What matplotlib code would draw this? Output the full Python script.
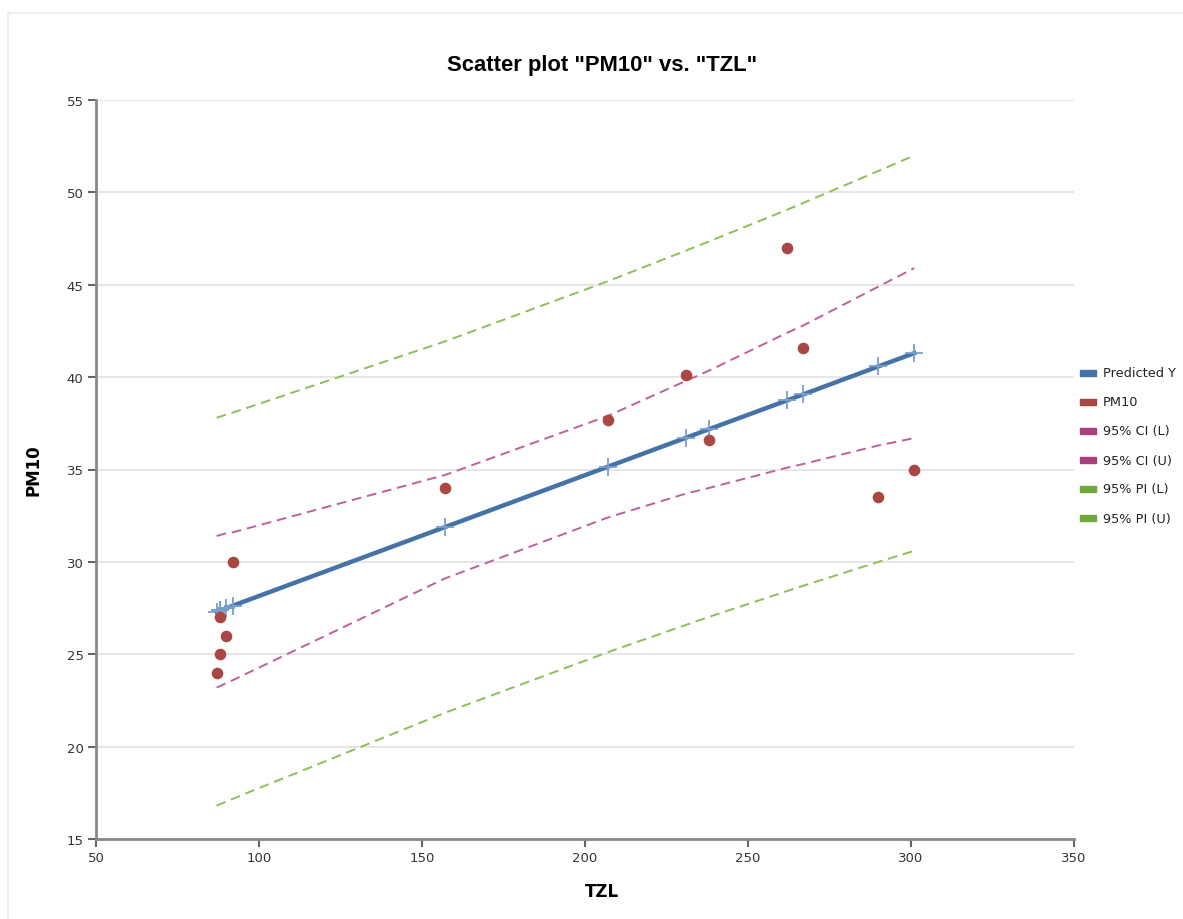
import numpy as np
import matplotlib
matplotlib.use('Agg')
import matplotlib.pyplot as plt
from matplotlib.patches import Rectangle

tzl = [87, 88, 90, 88, 92, 157, 207, 231, 238, 262, 267, 290, 301]
pm10 = [24, 25, 26, 27, 30, 34, 37.7, 40.1, 36.6, 47, 41.6, 33.5, 35]

# fitted line and bands, at the sorted x values
x_fit = [87, 88, 88, 90, 92, 157, 207, 231, 238, 262, 267, 290, 301]
pred_y = [27.30, 27.37, 27.37, 27.50, 27.63, 31.88, 35.15, 36.72, 37.18, 38.74, 39.07, 40.58, 41.30]
ci_low = [23.2, 23.27, 23.27, 23.45, 23.6, 29.1, 32.4, 33.7, 34.0, 35.1, 35.3, 36.3, 36.7]
ci_up = [31.4, 31.45, 31.45, 31.55, 31.6, 34.7, 37.9, 39.8, 40.35, 42.4, 42.8, 44.9, 45.9]
pi_low = [16.8, 16.88, 16.88, 17.03, 17.18, 21.83, 25.11, 26.59, 27.02, 28.42, 28.71, 30.0, 30.6]
pi_up = [37.8, 37.86, 37.86, 37.97, 38.08, 41.93, 45.19, 46.85, 47.34, 49.06, 49.43, 51.16, 52.0]

x_ticks = [50, 100, 150, 200, 250, 300, 350]
y_ticks = [15, 20, 25, 30, 35, 40, 45, 50, 55]

legend_names = ['Predicted Y', 'PM10', '95% CI (L)', '95% CI (U)', '95% PI (L)', '95% PI (U)']

BLUE = '#4572A7'
RED = '#AA4643'
CI = '#C0609A'
CI_LEG = '#A8407F'
PI = '#8CBF5A'
PI_LEG = '#70A83B'
AXIS = '#888888'

W, H = 1183, 920
fig = plt.figure(figsize=(W / 100, H / 100), dpi=100)

# light outer frame
fig.add_artist(plt.Line2D([8 / W, 1], [1 - 14 / H, 1 - 14 / H], color='#eeeeee', lw=1.5))
fig.add_artist(plt.Line2D([8 / W, 8 / W], [0, 1 - 14 / H], color='#eeeeee', lw=1.5))

ax = fig.add_axes([96 / W, 1 - 840 / H, (1074 - 96) / W, (840 - 101) / H])

ax.plot(x_fit, pi_up, color=PI, lw=1.4, dashes=(5, 3), zorder=2)
ax.plot(x_fit, pi_low, color=PI, lw=1.4, dashes=(5, 3), zorder=2)
ax.plot(x_fit, ci_up, color=CI, lw=1.4, dashes=(5, 3), zorder=2)
ax.plot(x_fit, ci_low, color=CI, lw=1.4, dashes=(5, 3), zorder=2)
ax.plot(x_fit, pred_y, color=BLUE, lw=3.2, zorder=3)
ax.plot(x_fit, pred_y, ls='none', marker='+', ms=13, mew=1.3, color='#7A9FCC', zorder=4)
ax.scatter(tzl, pm10, s=70, color=RED, zorder=5, linewidths=0)

ax.set_xlim(50, 350)
ax.set_ylim(15, 55)
ax.set_xticks(x_ticks)
ax.set_yticks(y_ticks)
ax.yaxis.grid(True, color='#e4e4e4', lw=1.3)
ax.set_axisbelow(True)
for s in ['top', 'right']:
    ax.spines[s].set_visible(False)
for s in ['left', 'bottom']:
    ax.spines[s].set_color(AXIS)
    ax.spines[s].set_linewidth(2)
ax.tick_params(direction='out', length=6, width=1.5, color='#666666',
               labelsize=9.5, labelcolor='#333333', pad=3)
for lab in ax.get_xticklabels() + ax.get_yticklabels():
    lab.set_family('DejaVu Sans')

# axis titles placed like the original
fig.text(602 / W, 1 - 892 / H, 'TZL', ha='center', va='center', fontsize=12,
         fontweight='bold', family='DejaVu Sans')
fig.text(33 / W, 1 - 470 / H, 'PM10', ha='center', va='center', fontsize=12,
         fontweight='bold', family='DejaVu Sans', rotation=90)

fig.text(602 / W, 1 - 65 / H, 'Scatter plot "PM10" vs. "TZL"', ha='center', va='center',
         fontsize=15.8, fontweight='bold', family='Liberation Sans')

# legend at the right
leg_colors = [BLUE, RED, CI_LEG, CI_LEG, PI_LEG, PI_LEG]
for i, (name, c) in enumerate(zip(legend_names, leg_colors)):
    yp = 374 + i * 29
    fig.add_artist(Rectangle((1080 / W, 1 - (yp + 3) / H), 16 / W, 6 / H,
                             color=c, transform=fig.transFigure))
    fig.text(1103 / W, 1 - yp / H, name, ha='left', va='center', fontsize=9.3,
             color='#222222', family='DejaVu Sans')

fig.savefig('out.png', dpi=100)
